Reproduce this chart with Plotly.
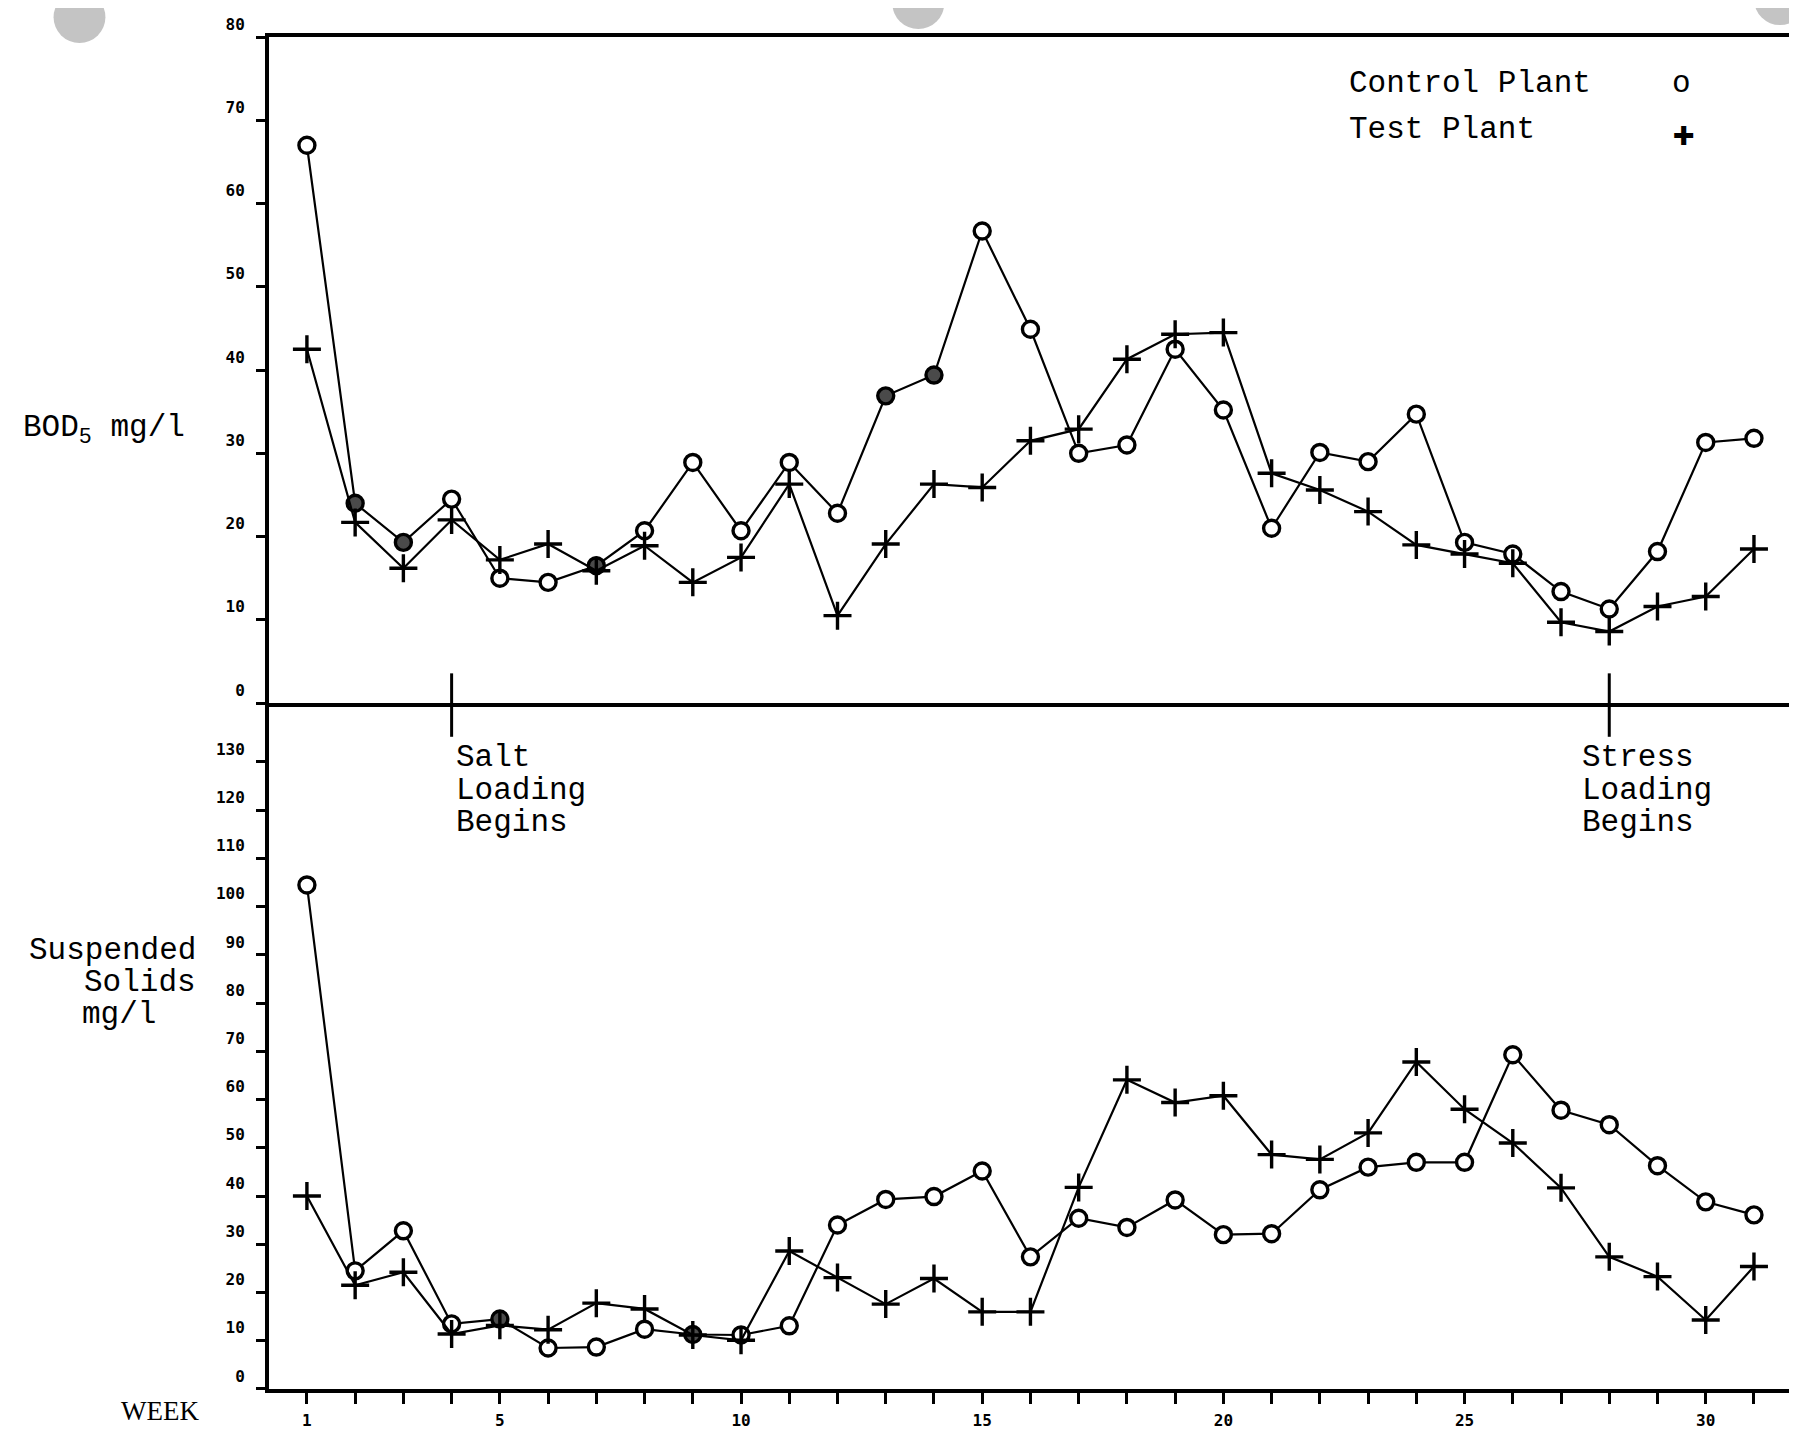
import plotly.graph_objects as go

# ---------------- data ----------------
WEEKS = list(range(1, 32))

BOD_CONTROL = [67, 24, 19.3, 24.5, 15, 14.5, 16.5, 20.7, 28.9, 20.7,
               28.9, 22.8, 36.9, 39.4, 56.7, 44.9, 30, 31, 42.5, 35.2,
               21, 30.1, 29, 34.7, 19.3, 17.9, 13.4, 11.3, 18.2, 31.3, 31.8]
BOD_TEST = [42.5, 21.7, 16.2, 22, 17.2, 19.1, 15.9, 18.9, 14.5, 17.5,
            26.3, 10.5, 19.1, 26.3, 25.9, 31.5, 32.9, 41.3, 44.3, 44.5,
            27.6, 25.6, 23, 19, 17.9, 16.8, 9.7, 8.6, 11.6, 12.8, 18.5]

SS_CONTROL = [104.5, 24.5, 32.8, 13.5, 14.5, 8.5, 8.7, 12.4, 11.3, 11.2,
              13.1, 34, 39.3, 39.9, 45.2, 27.4, 35.4, 33.5, 39.2, 32,
              32.2, 41.3, 46, 47, 47, 69.3, 57.8, 54.8, 46.3, 38.8, 36.1]
SS_TEST = [40, 21.5, 24.2, 11.4, 13.2, 12.3, 17.8, 16.6, 11.2, 10.1,
           28.6, 23.1, 17.6, 22.9, 16, 16, 41.8, 64.1, 59.4, 60.8,
           48.6, 47.6, 53.1, 67.8, 58, 51, 41.7, 27.4, 23.3, 14.3, 25.4]

BOD_TICKS = list(range(0, 81, 10))
SS_TICKS = list(range(0, 131, 10))
LABELED_WEEKS = [1, 5, 10, 15, 20, 25, 30]
WEEK_TICK_TEXT = [str(w) for w in LABELED_WEEKS]

SALT_WEEK = 4
STRESS_WEEK = 28
SALT_LABEL = ["Salt", "Loading", "Begins"]
STRESS_LABEL = ["Stress", "Loading", "Begins"]

# weeks whose control-plant circles appear shaded in the scan
BOD_SHADED_WEEKS = [2, 3, 7, 13, 14]
SS_SHADED_WEEKS = [5, 9]

# ---------------- styling ----------------
W, H = 1797, 1429
ML, MR, MT, MB = 261, 7, 26, 39
PH = H - MT - MB
DIVIDER_PX = 698
SPLIT = (H - MB - DIVIDER_PX) / PH
SS_TOP = (H - MB - DIVIDER_PX) / 4.866
TXT = dict(family="Liberation Mono, Courier New, monospace", size=31, color="black")
TICKFONT = dict(family="DejaVu Sans Mono, monospace", size=16, color="black", weight="bold")


def fills(shaded):
    return ["#4a4a4a" if w in shaded else "white" for w in WEEKS]


def py(y_px):
    """page pixel row -> paper y"""
    return (H - MB - y_px) / PH


def px(x_px):
    return (x_px - ML) / (W - ML - MR)


circle = lambda shaded: dict(symbol="circle", size=16, color=fills(shaded),
                             line=dict(color="black", width=3.4))
plus = dict(symbol="cross-thin", size=20, color="black",
            line=dict(color="black", width=3.4))
line = dict(color="black", width=2.2)

fig = go.Figure()
fig.add_trace(go.Scatter(x=WEEKS, y=BOD_CONTROL, mode="lines+markers", name="Control Plant",
                         line=line, marker=circle(BOD_SHADED_WEEKS), xaxis="x2", yaxis="y2"))
fig.add_trace(go.Scatter(x=WEEKS, y=BOD_TEST, mode="lines+markers", name="Test Plant",
                         line=line, marker=plus, xaxis="x2", yaxis="y2"))
fig.add_trace(go.Scatter(x=WEEKS, y=SS_CONTROL, mode="lines+markers", name="Control Plant",
                         line=line, marker=circle(SS_SHADED_WEEKS), xaxis="x", yaxis="y"))
fig.add_trace(go.Scatter(x=WEEKS, y=SS_TEST, mode="lines+markers", name="Test Plant",
                         line=line, marker=plus, xaxis="x", yaxis="y"))

yax_common = dict(showline=True, mirror=True, linecolor="black", linewidth=4,
                  ticks="outside", ticklen=9, tickwidth=3, tickcolor="black",
                  showgrid=False, zeroline=False, tickfont=TICKFONT,
                  ticklabelshift=-13, ticklabelstandoff=8)

fig.update_layout(
    width=W, height=H,
    margin=dict(l=ML, r=MR, t=MT, b=MB),
    paper_bgcolor="white", plot_bgcolor="white",
    showlegend=False,
    xaxis=dict(domain=[0, 1], anchor="y", range=[0.214, 31.83],
               showline=True, linecolor="black", linewidth=4,
               ticks="outside", ticklen=11, tickwidth=3, tickcolor="black",
               tickvals=LABELED_WEEKS, ticktext=WEEK_TICK_TEXT, tickfont=TICKFONT,
               minor=dict(tick0=0, dtick=1, ticks="outside", ticklen=11, tickwidth=3,
                          tickcolor="black", showgrid=False),
               showgrid=False, zeroline=False, ticklabelstandoff=3),
    xaxis2=dict(domain=[0, 1], anchor="y2", matches="x", showline=True, mirror=True,
                linecolor="black", linewidth=4, showticklabels=False, ticks="",
                showgrid=False, zeroline=False),
    yaxis=dict(domain=[0, SPLIT], range=[0, SS_TOP], tickvals=SS_TICKS, **yax_common),
    yaxis2=dict(domain=[SPLIT, 1], range=[0, 80], tickvals=BOD_TICKS, **yax_common),
)

# event markers crossing the divider
for wk in (SALT_WEEK, STRESS_WEEK):
    fig.add_shape(type="line", xref="x", yref="paper", x0=wk, x1=wk,
                  y0=py(668), y1=py(732), line=dict(color="black", width=3))

ann = []
for i, ypix in enumerate([753, 786, 818]):
    ann.append(dict(x=SALT_WEEK + 0.05, xref="x", y=py(ypix), yref="paper",
                    text=SALT_LABEL[i], showarrow=False, xanchor="left", yanchor="middle", font=TXT))
    ann.append(dict(x=STRESS_WEEK - 0.6, xref="x", y=py(ypix), yref="paper",
                    text=STRESS_LABEL[i], showarrow=False, xanchor="left", yanchor="middle", font=TXT))

# legend text
ann += [
    dict(x=px(1342), y=py(73), xref="paper", yref="paper", text="Control Plant",
         showarrow=False, xanchor="left", yanchor="middle", font=TXT),
    dict(x=px(1342), y=py(119), xref="paper", yref="paper", text="Test Plant",
         showarrow=False, xanchor="left", yanchor="middle", font=TXT),
    dict(x=px(1677), y=py(73), xref="paper", yref="paper", text="o",
         showarrow=False, xanchor="center", yanchor="middle", font=TXT),
    dict(x=px(1680), y=py(126), xref="paper", yref="paper", text="✚",
         showarrow=False, xanchor="center", yanchor="middle",
         font=dict(family="DejaVu Sans", size=26, color="black")),
]

# axis titles
ann += [
    dict(x=px(12), y=py(422), xref="paper", yref="paper", text="BOD<sub>5</sub> mg/l",
         showarrow=False, xanchor="left", yanchor="middle", font=TXT),
    dict(x=px(190), y=py(948), xref="paper", yref="paper", text="Suspended",
         showarrow=False, xanchor="right", yanchor="middle", font=TXT),
    dict(x=px(190), y=py(980), xref="paper", yref="paper", text="Solids",
         showarrow=False, xanchor="right", yanchor="middle", font=TXT),
    dict(x=px(72), y=py(1012), xref="paper", yref="paper", text="mg/l",
         showarrow=False, xanchor="left", yanchor="middle", font=TXT),
    dict(x=px(193), y=py(1412), xref="paper", yref="paper", text="WEEK",
         showarrow=False, xanchor="right", yanchor="middle",
         font=dict(family="Liberation Serif, Times New Roman, serif", size=27, color="black")),
]
fig.update_layout(annotations=ann)

# punched-hole shadows of the scanned page
for cx, cy, r in [(71, 6, 26), (912, -8, 26), (1776, -12, 26)]:
    fig.add_shape(type="circle", xref="paper", yref="paper",
                  x0=px(cx - r), x1=px(cx + r), y0=py(cy + r), y1=py(cy - r),
                  fillcolor="#c4c4c4", line=dict(width=0), layer="below")

fig.write_html("out.html")
